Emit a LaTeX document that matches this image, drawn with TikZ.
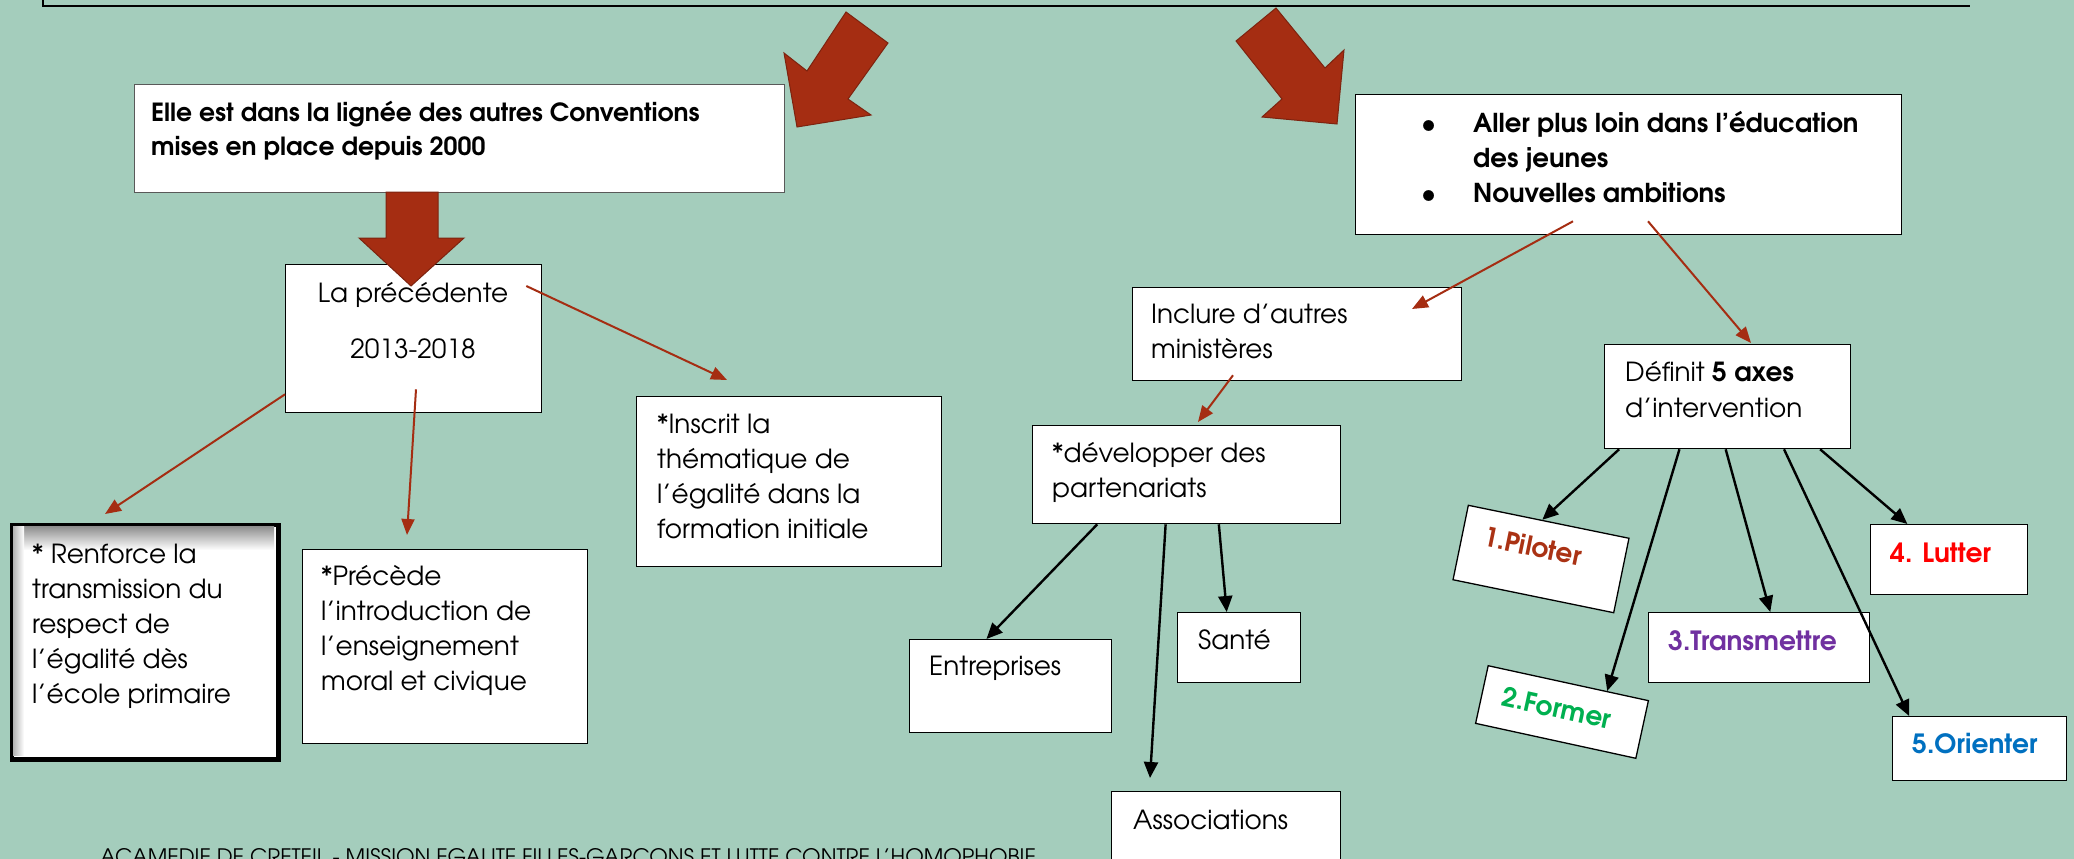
\documentclass[tikz,border=0pt]{standalone}
\usepackage{fontspec}
\setmainfont{TeX Gyre Adventor}
\usetikzlibrary{arrows.meta,calc}
\definecolor{bg}{RGB}{164,205,188}
\definecolor{brick}{RGB}{165,45,18}
\definecolor{brickdark}{RGB}{125,35,15}
\definecolor{pilotc}{RGB}{170,50,20}
\definecolor{formc}{RGB}{0,176,80}
\definecolor{transc}{RGB}{112,48,160}
\definecolor{luttc}{RGB}{255,0,0}
\definecolor{orientc}{RGB}{0,112,192}
\newcommand\ml[2][35pt]{\vtop{\baselineskip=#1\lineskiplimit=-100pt\halign{##\hfil\cr#2\crcr}}}
\newcommand\mlc[2][35pt]{\vtop{\baselineskip=#1\lineskiplimit=-100pt\halign{\hfil##\hfil\cr#2\crcr}}}
\begin{document}
\begin{tikzpicture}[x=1pt,y=-1pt,
  box/.style={draw=black, line width=1.3pt, fill=white, anchor=north west, inner sep=0pt},
  rbox/.style={draw=black, line width=1.3pt, fill=white, anchor=center, inner sep=0pt},
  txt/.style={anchor=base west, inner sep=0pt, font=\fontsize{26.3}{35}\selectfont},
  btxt/.style={anchor=base west, inner sep=0pt, font=\fontsize{25}{34}\selectfont\bfseries},
  ctxt/.style={anchor=base west, inner sep=0pt, font=\fontsize{26.5}{30}\selectfont\bfseries},
  redarrow/.style={draw=brick, line width=2pt, -{Triangle[length=16pt,width=13pt]}},
  blkarrow/.style={draw=black, line width=2.4pt, -{Triangle[length=16pt,width=14pt]}},
  block/.style={fill=brick, draw=brickdark, line width=1pt, line join=miter}
]
\useasboundingbox (0,0) rectangle (2074,859);
\fill[bg] (0,0) rectangle (2074,859);
% top frame
\draw[line width=2.5pt] (43,-5) -- (43,6) -- (1970,6);

% boxes
\node[box, draw=black!65, minimum width=650pt, minimum height=108pt] (A) at (134,84) {};
\node[box, minimum width=256pt, minimum height=148pt] (B) at (285,264) {};
\node[box, line width=3pt, minimum width=265pt, minimum height=233pt] (C) at (11,524) {};
\shade[top color=black!45, bottom color=white] (13,526) rectangle (274,550);
\shade[left color=black!30, right color=white] (13,526) rectangle (24,755);
\draw[line width=3pt] (C.north west) rectangle (C.south east);
\node[box, minimum width=285pt, minimum height=194pt] (D) at (302,549) {};
\node[box, minimum width=305pt, minimum height=170pt] (E) at (636,396) {};
\node[box, minimum width=546pt, minimum height=140pt] (F) at (1355,94) {};
\node[box, minimum width=329pt, minimum height=93pt] (G) at (1132,287) {};
\node[box, minimum width=308pt, minimum height=98pt] (H) at (1032,425) {};
\node[box, minimum width=202pt, minimum height=93pt] (Ent) at (909,639) {};
\node[box, minimum width=123pt, minimum height=70pt] (San) at (1177,612) {};
\node[box, minimum width=229pt, minimum height=100pt] (Ass) at (1111,791) {};
\node[box, minimum width=246pt, minimum height=104pt] (I) at (1604,344) {};
\node[box, minimum width=157pt, minimum height=70pt] (Lut) at (1870,524) {};
\node[box, minimum width=221pt, minimum height=70pt] (Tra) at (1648,612) {};
\node[box, minimum width=174pt, minimum height=64pt] (Ori) at (1892,716) {};
\node[rbox, rotate=-11.6, minimum width=164pt, minimum height=76pt] (Pil) at (1541,559) {};
\node[rbox, rotate=-12.3, minimum width=164pt, minimum height=59pt] (For) at (1562,712) {};

% texts
\node[btxt] (At) at (151,121) {\ml[34pt]{Elle est dans la lignée des autres Conventions\cr mises en place depuis 2000}};
\node[txt, anchor=base] (Bt) at (413,302) {\mlc[56pt]{La précédente\cr 2013-2018}};
\node[txt] (Ct) at (32,563) {\ml{* Renforce la\cr transmission du\cr respect de\cr l’égalité dès\cr l’école primaire}};
\node[txt] (Dt) at (321,585) {\ml{*Précède\cr l’introduction de\cr l’enseignement\cr moral et civique}};
\node[txt] (Et) at (657,433) {\ml{*Inscrit la\cr thématique de\cr l’égalité dans la\cr formation initiale}};
\node[btxt, font=\fontsize{26}{34}\selectfont\bfseries] (Ft) at (1421,132) {\vtop{\baselineskip=35pt\lineskiplimit=-100pt\halign{\hbox to 52pt{#\hfil}&#\hfil\cr •&Aller plus loin dans l’éducation\cr &des jeunes\cr •&Nouvelles ambitions\crcr}}};
\node[txt] (Gt) at (1151,323) {\ml{Inclure d’autres\cr ministères}};
\node[txt] (Ht) at (1052,462) {\ml{*développer des\cr partenariats}};
\node[txt] (Entt) at (929,675) {Entreprises};
\node[txt] (Sant) at (1198,649) {Santé};
\node[txt] (Asst) at (1133,829) {Associations};
\node[txt] (It) at (1625,381) {\ml[36pt]{Définit \textbf{5 axes}\cr d’intervention}};
\node[ctxt, text=luttc] (Lutt) at (1890,562) {4. Lutter};
\node[ctxt, text=transc] (Trat) at (1668,650) {3.Transmettre};
\node[ctxt, text=orientc] (Orit) at (1912,753) {5.Orienter};
\node[ctxt, anchor=center, rotate=-11.6, text=pilotc] (Pilt) at (1533,546) {1.Piloter};
\node[ctxt, anchor=center, rotate=-12.3, text=formc] (Fort) at (1557,708) {2.Former};
\node[anchor=base west, inner sep=0pt, font=\fontsize{21.3}{21}\selectfont] (foot) at (100,864) {ACAMEDIE DE CRETEIL - MISSION EGALITE FILLES-GARCONS ET LUTTE CONTRE L'HOMOPHOBIE};

% big block arrows
\filldraw[block] (846,12) -- (888,43) -- (848,99) -- (871,115) -- (797,127) -- (784,53) -- (807,71) -- cycle;
\filldraw[block] (1276,8) -- (1325,68) -- (1344,50) -- (1337,124) -- (1262,117) -- (1282,99) -- (1236,41) -- cycle;
\filldraw[block] (386,192) -- (438,192) -- (438,238) -- (464,238) -- (411,286) -- (359,238) -- (386,238) -- cycle;

% red connectors
\draw[redarrow] ($(B.south west)+(0,-19)$) -- ($(C.north west)+(94,-10)$);
\draw[redarrow] ($(B.south west)+(131,-24)$) -- ($(D.north west)+(105,-14)$);
\draw[redarrow] ($(B.north east)+(-16,22)$) -- ($(E.north west)+(91,-16)$);
\draw[redarrow] ($(F.south west)+(218,-14)$) -- ($(G.north west)+(280,22)$);
\draw[redarrow] ($(F.south west)+(293,-14)$) -- ($(I.north west)+(147,-1)$);
\draw[redarrow] ($(G.south west)+(101,-6)$) -- ($(H.north west)+(166,-3)$);

% black connectors
\draw[blkarrow] ($(H.south west)!0.211!(H.south east)$) -- ($(Ent.north west)!0.381!(Ent.north east)$);
\draw[blkarrow] ($(H.south west)!0.432!(H.south east)$) -- ($(Ass.north west)+(39,-13)$);
\draw[blkarrow] ($(H.south west)!0.604!(H.south east)$) -- ($(San.north west)!0.40!(San.north east)$);
\draw[blkarrow] ($(I.south west)!0.061!(I.south east)$) -- ($(Pil.north west)!0.46!(Pil.north east)$);
\draw[blkarrow] ($(I.south west)!0.305!(I.south east)$) -- ($(For.north west)!0.74!(For.north east)$);
\draw[blkarrow] ($(I.south west)!0.492!(I.south east)$) -- ($(Tra.north west)!0.55!(Tra.north east)$);
\draw[blkarrow] ($(I.south west)!0.728!(I.south east)$) -- ($(Ori.north west)!0.098!(Ori.north east)$);
\draw[blkarrow] ($(I.south west)!0.874!(I.south east)$) -- ($(Lut.north west)!0.236!(Lut.north east)$);
\end{tikzpicture}
\end{document}
